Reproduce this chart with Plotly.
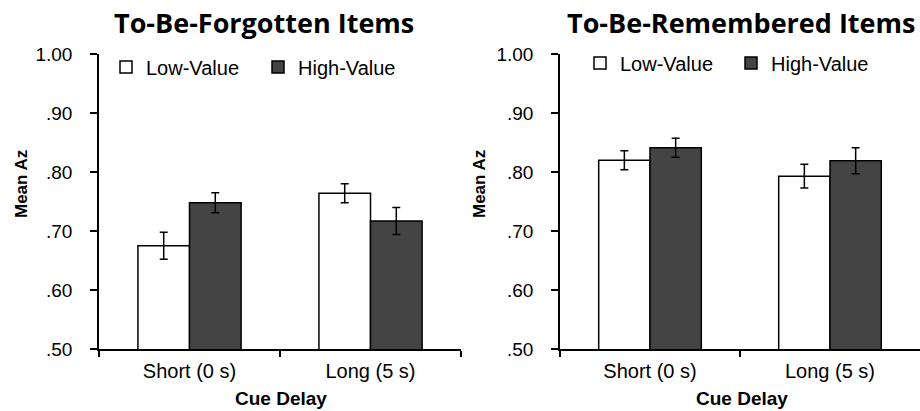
import plotly.graph_objects as go

categories = ["Short (0 s)", "Long (5 s)"]
series_names = ["Low-Value", "High-Value"]

tbf_low = [0.675, 0.764]
tbf_low_err = [0.023, 0.016]
tbf_high = [0.748, 0.717]
tbf_high_err = [0.017, 0.023]

tbr_low = [0.820, 0.793]
tbr_low_err = [0.016, 0.020]
tbr_high = [0.841, 0.819]
tbr_high_err = [0.016, 0.022]

y_tickvals = [0.5, 0.6, 0.7, 0.8, 0.9, 1.0]
y_ticktext = [".50", ".60", ".70", ".80", ".90", "1.00"]

panel_titles = ["To-Be-Forgotten Items", "To-Be-Remembered Items"]
x_title = "Cue Delay"
y_title = "Mean Az"

W, H = 920, 411
FONT = "Arial, Liberation Sans, sans-serif"
colors = ["#ffffff", "#444444"]

fig = go.Figure()

panels = [
    ("x", "y", "legend", [tbf_low, tbf_high], [tbf_low_err, tbf_high_err]),
    ("x2", "y2", "legend2", [tbr_low, tbr_high], [tbr_low_err, tbr_high_err]),
]
for xa, ya, lg, vals, errs in panels:
    for i in range(2):
        fig.add_trace(go.Bar(
            x=categories, y=vals[i], name=series_names[i],
            xaxis=xa, yaxis=ya, legend=lg,
            marker=dict(color=colors[i], line=dict(color="#000000", width=1.5)),
            error_y=dict(type="data", array=errs[i], color="#000000", thickness=1.5, width=4),
        ))

axis_common_y = dict(
    range=[0.5, 1.0], tickvals=y_tickvals, ticktext=y_ticktext,
    showgrid=False, zeroline=False, showline=True, linecolor="#000000", linewidth=1.5,
    ticks="outside", ticklen=7, tickwidth=1.5, tickcolor="#000000", ticklabelstandoff=14,
    tickfont=dict(family=FONT, size=19, color="#000000"), automargin=False,
)
axis_common_x = dict(
    showgrid=False, zeroline=False, showline=True, linecolor="#000000", linewidth=1.5,
    ticks="outside", ticklen=6, tickwidth=1.5, tickcolor="#000000", tickson="boundaries",
    ticklabelstandoff=3,
    tickfont=dict(family=FONT, size=20, color="#000000"), automargin=False,
)

y0 = 1 - 349 / H
y1 = 1 - 54 / H
fig.update_layout(
    width=W, height=H,
    margin=dict(l=0, r=0, t=0, b=0),
    paper_bgcolor="#ffffff", plot_bgcolor="#ffffff",
    barmode="group", bargap=0.43, bargroupgap=0,
    xaxis=dict(domain=[99 / W, 461 / W], anchor="y", **axis_common_x),
    yaxis=dict(domain=[y0, y1], anchor="x", **axis_common_y),
    xaxis2=dict(domain=[560 / W, 1.0], anchor="y2", **axis_common_x),
    yaxis2=dict(domain=[y0, y1], anchor="x2", **axis_common_y),
    legend=dict(orientation="h", x=106 / W, xanchor="left", y=1 - 67 / H, yanchor="middle",
                font=dict(family=FONT, size=20, color="#000000"), entrywidth=107,
                bgcolor="rgba(0,0,0,0)", traceorder="normal"),
    legend2=dict(orientation="h", x=580 / W, xanchor="left", y=1 - 63 / H, yanchor="middle",
                 font=dict(family=FONT, size=20, color="#000000"), entrywidth=106,
                 bgcolor="rgba(0,0,0,0)", traceorder="normal"),
    showlegend=True,
)

def ann(text, x, y, size, family=FONT, angle=0):
    return dict(text="<b>%s</b>" % text, x=x / W, y=1 - y / H, xref="paper", yref="paper",
                xanchor="center", yanchor="middle", textangle=angle, showarrow=False,
                font=dict(family=family, size=size, color="#000000"))

annotations = [
    ann(panel_titles[0], 264, 22, 27, family="Open Sans"),
    ann(panel_titles[1], 741, 22, 27, family="Open Sans"),
    ann(x_title, 281, 398, 19),
    ann(x_title, 742, 398, 19),
    ann(y_title, 21, 184, 17, angle=-90),
    ann(y_title, 479, 184, 17, angle=-90),
]
fig.update_layout(annotations=annotations)

fig.write_html("out.html", config={"displayModeBar": False},
               post_script="document.body.style.margin='0';")
